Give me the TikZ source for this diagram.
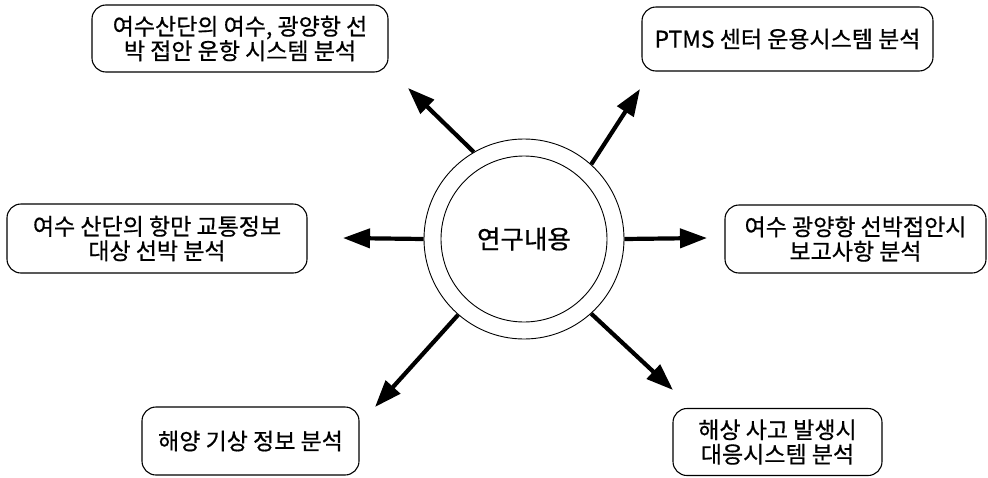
\documentclass[tikz,border=0pt]{standalone}
\usepackage{fontspec}
\setmainfont{Noto Sans CJK KR}[FakeBold=0.6]
\usetikzlibrary{arrows.meta}
\begin{document}
\begin{tikzpicture}[x=1pt,y=-1pt,
  box/.style={draw, line width=1.1pt, rounded corners=14pt, align=center,
    font=\fontsize{23}{24.5}\selectfont, inner sep=0pt},
  arr/.style={line width=4.2pt, -{Triangle[length=27pt,width=19pt]}},
  ring/.style={draw, circle, line width=0.9pt, inner sep=0pt}]
\useasboundingbox (0,0) rectangle (988,477);
\node[ring, minimum size=200pt] (outer) at (524,239) {};
\node[ring, minimum size=166pt, font=\fontsize{25.5}{30}\selectfont] (inner) at (524,239) {연구내용};
\node[box, minimum width=296pt, minimum height=67pt] (b1) at (240,38.5) {여수산단의 여수, 광양항 선\\박 접안 운항 시스템 분석};
\node[box, minimum width=291pt, minimum height=64pt] (b2) at (787.5,39) {PTMS 센터 운용시스템 분석};
\node[box, minimum width=300pt, minimum height=69pt] (b3) at (157,238.5) {여수 산단의 항만 교통정보\\대상 선박 분석};
\node[box, minimum width=261pt, minimum height=68pt] (b4) at (855.5,239) {여수 광양항 선박접안시\\보고사항 분석};
\node[box, minimum width=217pt, minimum height=68pt] (b5) at (250.5,441) {해양 기상 정보 분석};
\node[box, minimum width=209pt, minimum height=67pt] (b6) at (777.5,442) {해상 사고 발생시\\대응시스템 분석};
\coordinate (t1) at (408,88);
\coordinate (t2) at (640,89);
\coordinate (t3) at (343,238);
\coordinate (t4) at (707,238);
\coordinate (t5) at (375,407);
\coordinate (t6) at (673,390);
\draw[arr] (outer.120) -- (t1);
\draw[arr] (outer.48) -- (t2);
\draw[arr] (outer.180) -- (t3);
\draw[arr] (outer.0) -- (t4);
\draw[arr] (outer.-131) -- (t5);
\draw[arr] (outer.-48) -- (t6);
\end{tikzpicture}
\end{document}
